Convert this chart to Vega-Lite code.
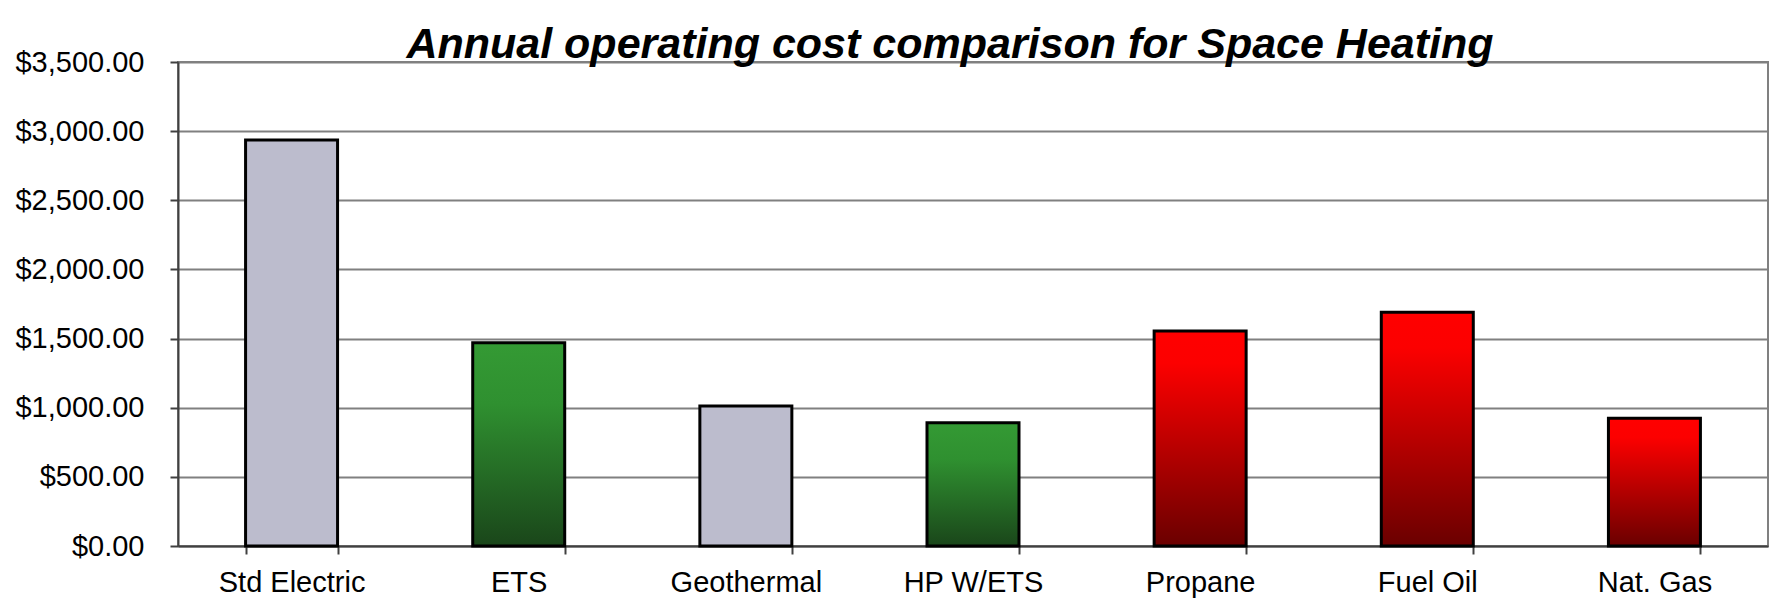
{
  "$schema": "https://vega.github.io/schema/vega-lite/v6.json",
  "width": 1590,
  "height": 484,
  "autosize": {"type": "none"},
  "padding": {"left": 178, "top": 62, "right": 9, "bottom": 63},
  "background": "white",
  "config": {
    "view": {"stroke": "#808080", "strokeWidth": 2},
    "font": "Liberation Sans"
  },
  "title": {
    "text": "Annual operating cost comparison for Space Heating",
    "font": "Liberation Sans",
    "fontSize": 43,
    "fontWeight": "bold",
    "fontStyle": "italic",
    "color": "black",
    "anchor": "middle",
    "frame": "group",
    "baseline": "alphabetic",
    "offset": 0,
    "dy": 53,
    "dx": -23
  },
  "data": {
    "values": [
      {"system": "Std Electric", "cost": 2936, "group": "electric"},
      {"system": "ETS", "cost": 1470, "group": "green"},
      {"system": "Geothermal", "cost": 1012, "group": "electric"},
      {"system": "HP W/ETS", "cost": 892, "group": "green"},
      {"system": "Propane", "cost": 1555, "group": "red"},
      {"system": "Fuel Oil", "cost": 1690, "group": "red"},
      {"system": "Nat. Gas", "cost": 924, "group": "red"}
    ]
  },
  "encoding": {
    "x": {
      "field": "system",
      "type": "nominal",
      "sort": null,
      "scale": {
        "domain": ["Std Electric", "ETS", "Geothermal", "HP W/ETS", "Propane", "Fuel Oil", "Nat. Gas"],
        "paddingInner": 0.595,
        "paddingOuter": 0.2975
      },
      "axis": {
        "title": null,
        "labelAngle": 0,
        "labelFont": "Liberation Sans",
        "labelFontSize": 29,
        "labelColor": "black",
        "labelBaseline": "alphabetic",
        "labelPadding": 37,
        "tickBand": "extent",
        "tickSize": 8,
        "tickColor": "#404040",
        "tickWidth": 2,
        "domainColor": "#404040",
        "domainWidth": 2,
        "grid": false
      }
    },
    "y": {
      "field": "cost",
      "type": "quantitative",
      "scale": {"domain": [0, 3500], "nice": false},
      "axis": {
        "title": null,
        "values": [0, 500, 1000, 1500, 2000, 2500, 3000, 3500],
        "format": "$,.2f",
        "labelFont": "Liberation Sans",
        "labelFontSize": 29,
        "labelColor": "black",
        "labelPadding": 26,
        "tickSize": 8,
        "tickColor": "#404040",
        "tickWidth": 2,
        "domainColor": "#404040",
        "domainWidth": 2,
        "grid": true,
        "gridColor": "#808080",
        "gridWidth": 2,
        "gridOpacity": 1
      }
    }
  },
  "layer": [
    {
      "transform": [{"filter": "datum.group == 'electric'"}],
      "mark": {"type": "bar", "fill": "#bcbccd", "stroke": "black", "strokeWidth": 3}
    },
    {
      "transform": [{"filter": "datum.group == 'green'"}],
      "mark": {
        "type": "bar",
        "stroke": "black",
        "strokeWidth": 3,
        "fill": {
          "gradient": "linear", "x1": 0, "y1": 0, "x2": 0, "y2": 1,
          "stops": [
            {"offset": 0, "color": "#349a34"},
            {"offset": 0.3, "color": "#2f9030"},
            {"offset": 1, "color": "#1a461a"}
          ]
        }
      }
    },
    {
      "transform": [{"filter": "datum.group == 'red'"}],
      "mark": {
        "type": "bar",
        "stroke": "black",
        "strokeWidth": 3,
        "fill": {
          "gradient": "linear", "x1": 0, "y1": 0, "x2": 0, "y2": 1,
          "stops": [
            {"offset": 0, "color": "#ff0000"},
            {"offset": 0.15, "color": "#fc0000"},
            {"offset": 1, "color": "#6a0000"}
          ]
        }
      }
    }
  ]
}
